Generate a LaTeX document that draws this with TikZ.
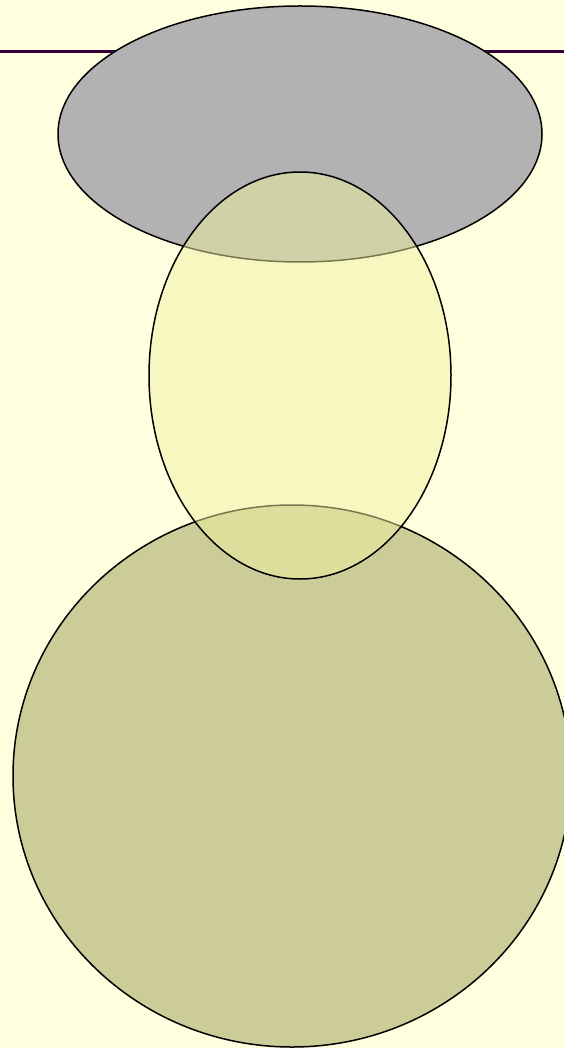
\documentclass[tikz,border=0pt]{standalone}
\usepackage{tikz}

\definecolor{bgyellow}{RGB}{255,255,224}
\definecolor{rulepurple}{RGB}{51,0,51}
\definecolor{hatgray}{RGB}{178,178,178}
\definecolor{bodyyellow}{RGB}{240,240,160}
\definecolor{baseolive}{RGB}{204,204,153}

\tikzset{
    outline/.style={draw=black, line width=1.5pt},
}

\begin{document}
\begin{tikzpicture}[x=1pt, y=-1pt]
        \fill[bgyellow] (0,0) rectangle (564,1048);
        \useasboundingbox (0,0) rectangle (564,1048);

        \draw[rulepurple, line width=3pt] (0,52) -- (564,52);

        \draw[outline, fill=baseolive] (292,776) ellipse [x radius=279, y radius=271];
        \draw[outline, fill=hatgray] (300,134) ellipse [x radius=242, y radius=128];
        \draw[outline, fill=bodyyellow, fill opacity=0.5, draw opacity=1] (300,375.5) ellipse [x radius=151, y radius=203.5];
    \end{tikzpicture}
\end{document}
